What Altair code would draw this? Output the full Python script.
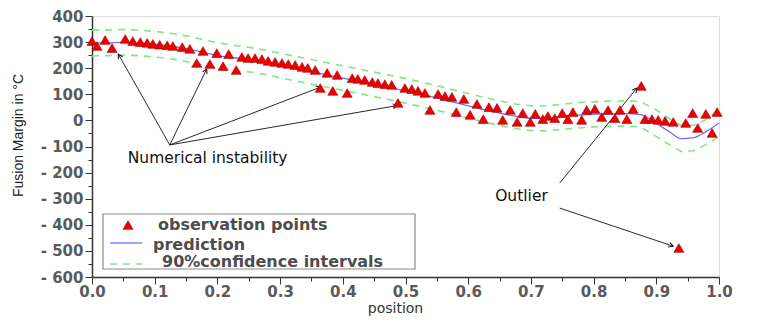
import math
import altair as alt
import pandas as pd

# ---------------- data ----------------
obs_pos = [0.000, 0.008, 0.021, 0.032, 0.053, 0.065, 0.077, 0.088, 0.097, 0.108,
           0.120, 0.129, 0.144, 0.156, 0.167, 0.177, 0.188, 0.199, 0.209, 0.218,
           0.230, 0.239, 0.249, 0.260, 0.271, 0.281, 0.292, 0.303, 0.313, 0.324,
           0.335, 0.344, 0.356, 0.364, 0.375, 0.384, 0.391, 0.407, 0.415, 0.424,
           0.435, 0.447, 0.456, 0.467, 0.478, 0.488, 0.499, 0.510, 0.520, 0.531,
           0.539, 0.552, 0.563, 0.574, 0.581, 0.593, 0.603, 0.614, 0.624, 0.633,
           0.646, 0.655, 0.667, 0.678, 0.687, 0.699, 0.707, 0.719, 0.727, 0.738,
           0.750, 0.759, 0.767, 0.781, 0.789, 0.802, 0.813, 0.823, 0.834, 0.842,
           0.853, 0.863, 0.876, 0.882, 0.893, 0.903, 0.914, 0.927, 0.936, 0.947,
           0.958, 0.966, 0.979, 0.989, 0.997]
obs_val = [304, 285, 308, 277, 312, 304, 300, 297, 293, 290,
           288, 285, 281, 274, 220, 266, 216, 258, 208, 254,
           193, 243, 239, 239, 235, 228, 224, 220, 216, 212,
           205, 201, 193, 124, 182, 113, 174, 105, 162, 159,
           155, 147, 143, 139, 136, 67, 124, 120, 113, 105,
           40, 101, 93, 90, 32, 82, 21, 63, 5, 51,
           48, 2, 40, -6, 28, -6, 25, 5, 17, 9,
           28, 5, 32, 2, 40, 44, 13, 40, 9, 40,
           5, 44, 132, 5, 5, 2, -2, -6, -489, -10,
           28, -29, 25, -48, 32]

pred_pos = [0.000, 0.025, 0.050, 0.075, 0.100, 0.125, 0.150, 0.175, 0.200, 0.225,
            0.250, 0.275, 0.300, 0.325, 0.350, 0.375, 0.400, 0.425, 0.450, 0.475,
            0.500, 0.525, 0.550, 0.575, 0.600, 0.625, 0.650, 0.675, 0.700, 0.725,
            0.750, 0.775, 0.800, 0.825, 0.850, 0.875, 0.900, 0.920, 0.940, 0.960,
            0.980, 1.000]
pred_val = [296, 297, 299, 297, 292, 285, 275, 262, 248, 240,
            234, 224, 210, 198, 186, 174, 162, 150, 138, 126,
            113, 100, 86, 71, 56, 41, 28, 16, 8, 8,
            15, 20, 23, 25, 26, 22, -12, -42, -70, -66,
            -42, -10]
ci_upper = [346, 346, 348, 346, 341, 334, 324, 311, 297, 288,
            280, 270, 257, 245, 233, 221, 209, 197, 185, 173,
            160, 147, 133, 118, 103, 88, 75, 63, 56, 55,
            62, 68, 71, 74, 75, 72, 40, 8, -20, -18,
            4, 40]
ci_lower = [247, 248, 250, 248, 243, 236, 226, 213, 199, 192,
            186, 177, 163, 151, 139, 127, 115, 103, 91, 79,
            66, 53, 39, 24, 9, -6, -19, -31, -39, -40,
            -34, -29, -25, -23, -22, -25, -62, -92, -120, -116,
            -92, -62]

legend_labels = ["observation points", "prediction", "90%confidence intervals"]

ann_labels = ["Numerical instability", "Outlier"]
ann_x = [0.057, 0.643]
ann_y = [-144, -290]

# arrows: start (x0, y0) -> tip (x1, y1) in data units
arr_x0 = [0.124, 0.124, 0.124, 0.124, 0.746, 0.746]
arr_y0 = [-94, -94, -94, -94, -240, -336]
arr_x1 = [0.042, 0.183, 0.365, 0.487, 0.869, 0.927]
arr_y1 = [254, 197, 128, 57, 124, -482]

# ---------------- geometry ----------------
W, H = 627, 261
XMIN, XMAX = 0.0, 1.0
YMIN, YMAX = -600, 400


def to_px(x, y):
    return (x - XMIN) / (XMAX - XMIN) * W, (YMAX - y) / (YMAX - YMIN) * H


angles = []
for a, b, c, d in zip(arr_x0, arr_y0, arr_x1, arr_y1):
    p0 = to_px(a, b)
    p1 = to_px(c, d)
    dx, dy = p1[0] - p0[0], p1[1] - p0[1]
    angles.append(math.degrees(math.atan2(dx, -dy)) % 360)

obs_df = pd.DataFrame({"pos": obs_pos, "val": obs_val})
pred_df = pd.DataFrame({"pos": pred_pos, "val": pred_val})
ci_df = pd.concat([
    pd.DataFrame({"pos": pred_pos, "val": ci_upper, "bound": "upper"}),
    pd.DataFrame({"pos": pred_pos, "val": ci_lower, "bound": "lower"}),
])
ann_df = pd.DataFrame({"pos": ann_x, "val": ann_y, "label": ann_labels})
arr_df = pd.DataFrame({"pos": arr_x0, "val": arr_y0, "x1": arr_x1, "y1": arr_y1, "angle": angles})
head_df = pd.DataFrame({"pos": arr_x1, "val": arr_y1, "angle": angles})
one = pd.DataFrame({"a": [0]})

AXFONT = "DejaVu Sans"

x_vals = [round(i * 0.05, 2) for i in range(21)]
y_vals = list(range(-600, 401, 50))

xscale = alt.Scale(domain=[XMIN, XMAX], nice=False, zero=False)
yscale = alt.Scale(domain=[YMIN, YMAX], nice=False, zero=False)

x_axis = alt.Axis(
    values=x_vals,
    labelExpr="abs(datum.value*10 - round(datum.value*10)) < 0.001 ? format(datum.value, '.1f') : ''",
    tickSize={"condition": {"test": "abs(datum.value*10 - round(datum.value*10)) < 0.001", "value": 7}, "value": 4},
    grid=False, domainColor="#333333", tickColor="#333333", domainWidth=1.5,
    labelFont=AXFONT, labelFontSize=15, labelFontWeight="bold", labelColor="#5a5a5a",
    labelPadding=0, labelFlush=False, labelOverlap=False, labelBound=False,
    title="position", titleFont=AXFONT, titleFontSize=14, titleFontWeight="normal",
    titleColor="#333333", titleX=303, titleY=31, titleBaseline="middle", titleAnchor="middle",
)
y_axis = alt.Axis(
    values=y_vals,
    labelExpr="datum.value % 100 !== 0 ? '' : (datum.value < 0 ? '- ' + abs(datum.value) : '' + datum.value)",
    tickSize={"condition": {"test": "datum.value % 100 === 0", "value": 7}, "value": 4},
    grid=False, domainColor="#333333", tickColor="#333333", domainWidth=1.5,
    labelFont=AXFONT, labelFontSize=15, labelFontWeight="bold", labelColor="#5a5a5a",
    labelPadding=2, labelFlush=False, labelOverlap=False, labelBound=False,
    title="Fusion Margin in °C", titleFont="Liberation Sans", titleFontSize=14,
    titleFontWeight="normal", titleColor="#222222", titleX=-74, titleY=119,
    titleBaseline="middle", titleAlign="center", titleAngle=270,
)

X = alt.X("pos:Q", scale=xscale, axis=x_axis)
Y = alt.Y("val:Q", scale=yscale, axis=y_axis)

ci = alt.Chart(ci_df).mark_line(color="#80e880", strokeWidth=1.6, strokeDash=[7, 6]).encode(
    x=X, y=Y, detail="bound:N",
)
pred = alt.Chart(pred_df).mark_line(color="#7070ff", strokeWidth=1.3, interpolate="monotone").encode(
    x=X, y=Y
)
pts = alt.Chart(obs_df).mark_point(
    shape="triangle-up", filled=True, fill="#ee0000", stroke="#a00000", strokeWidth=0.6,
    size=100, opacity=1,
).encode(x=X, y=Y)

arrows = alt.Chart(arr_df).mark_rule(color="#111111", strokeWidth=0.9).encode(
    x=X, y=Y, x2="x1:Q", y2="y1:Q"
)
heads = alt.Chart(head_df).mark_point(
    shape="M-0.55,1L0,0L0.55,1", filled=False, stroke="#111111", strokeWidth=1, size=80, opacity=1
).encode(x=X, y=Y, angle=alt.Angle("angle:Q", scale=None))

ann = alt.Chart(ann_df).mark_text(
    align="left", baseline="middle", font="DejaVu Sans", fontSize=15.5, color="#111111"
).encode(x=X, y=Y, text="label:N")

# legend box
leg_box = alt.Chart(one).mark_rect(fill="white", stroke="#8a8a8a", strokeWidth=1.2).encode(
    x=alt.value(11), x2=alt.value(323), y=alt.value(198), y2=alt.value(253)
)
leg_tri = alt.Chart(one).mark_point(
    shape="triangle-up", filled=True, fill="#ee0000", stroke="#a00000", strokeWidth=0.6, size=100, opacity=1
).encode(x=alt.value(36), y=alt.value(209))
leg_line = alt.Chart(one).mark_rule(color="#7070ff", strokeWidth=1.3).encode(
    x=alt.value(18), x2=alt.value(50), y=alt.value(227)
)
leg_dash = alt.Chart(one).mark_rule(color="#80e880", strokeWidth=1.6, strokeDash=[7, 6]).encode(
    x=alt.value(18), x2=alt.value(50), y=alt.value(248)
)
leg_txt_style = dict(align="left", baseline="middle", font="DejaVu Sans", fontSize=16,
                     fontWeight="bold", color="#4d4d4d")
leg_t1 = alt.Chart(one).mark_text(**leg_txt_style).encode(
    x=alt.value(66), y=alt.value(209), text=alt.value(legend_labels[0]))
leg_t2 = alt.Chart(one).mark_text(**leg_txt_style).encode(
    x=alt.value(61), y=alt.value(229), text=alt.value(legend_labels[1]))
leg_t3 = alt.Chart(one).mark_text(**leg_txt_style).encode(
    x=alt.value(70), y=alt.value(246), text=alt.value(legend_labels[2]))

chart = alt.layer(
    ci, pred, arrows, heads, ann, pts,
    leg_box, leg_tri, leg_line, leg_dash, leg_t1, leg_t2, leg_t3,
).properties(
    width=W, height=H,
    autosize=alt.AutoSizeParams(type="none"),
    padding={"left": 84, "top": 8, "right": 36, "bottom": 42},
).configure_view(
    stroke="#777777", strokeWidth=1.5
).configure_axis(
    labelOverlap=False
).configure(background="white")

chart.save("out.html", embed_options={"renderer": "svg", "actions": False})
